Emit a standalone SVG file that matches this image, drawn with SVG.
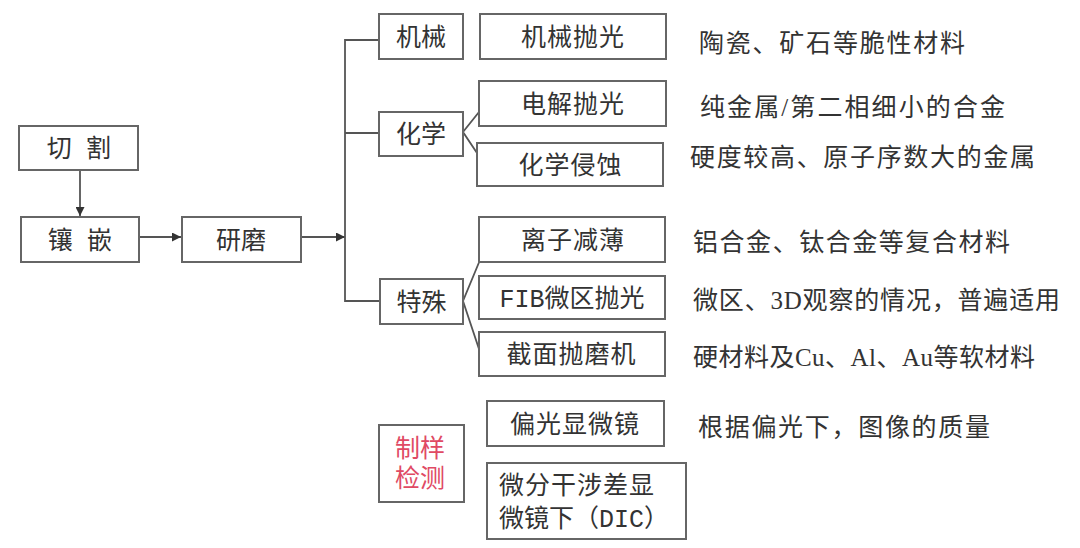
<svg xmlns="http://www.w3.org/2000/svg" width="1080" height="548" viewBox="0 0 1080 548">
<style>
.box{fill:#fff;stroke:#666;stroke-width:2}
.t{font-family:"Liberation Serif","Noto Sans CJK SC",serif;font-size:25px;fill:#333}
.m{font-family:"Liberation Mono","Noto Sans CJK SC",monospace;font-size:25px;fill:#333}
.c{text-anchor:middle}
.red{fill:#e04a64}
.ln{fill:none;stroke:#555;stroke-width:1.8}
</style>
<defs>
<marker id="ah" viewBox="0 0 10 10" refX="10" refY="5" markerWidth="9" markerHeight="9" markerUnits="userSpaceOnUse" orient="auto">
<path d="M0,0 L10,5 L0,10 Z" fill="#333"/>
</marker>
</defs>
<rect width="1080" height="548" fill="#fff"/>
<g id="connectors">
<line class="ln" x1="80" y1="171" x2="80" y2="216" marker-end="url(#ah)"/>
<line class="ln" x1="139" y1="237" x2="181" y2="237" marker-end="url(#ah)"/>
<line class="ln" x1="301" y1="237" x2="345" y2="237" marker-end="url(#ah)"/>
<polyline class="ln" points="379,40 345,40 345,301 380,301"/>
<line class="ln" x1="345" y1="133" x2="379" y2="133"/>
<polyline class="ln" points="479,112 463,132 477,153"/>
<polyline class="ln" points="480,260 463,301 480,352"/>
</g>
<g id="cut"><rect class="box" x="19" y="126" width="119" height="44"/><text class="t c" x="81" y="157" letter-spacing="4">切 割</text></g>
<g id="mount"><rect class="box" x="21" y="217" width="118" height="45"/><text class="t c" x="82" y="248.5" letter-spacing="4">镶 嵌</text></g>
<g id="grind"><rect class="box" x="182" y="217" width="119" height="45"/><text class="t c" x="241" y="248.5">研磨</text></g>
<g id="mech"><rect class="box" x="379" y="14" width="84" height="45"/><text class="t c" x="421" y="45.5">机械</text></g>
<g id="chem"><rect class="box" x="379" y="112" width="84" height="44"/><text class="t c" x="421" y="143">化学</text></g>
<g id="special"><rect class="box" x="380" y="279" width="83" height="45"/><text class="t c" x="421.5" y="310.5">特殊</text></g>
<g id="mech-polish"><rect class="box" x="480" y="14" width="186" height="45"/><text class="t c" x="573" y="45.5" letter-spacing="1">机械抛光</text></g>
<g id="electro-polish"><rect class="box" x="479" y="81" width="187" height="45"/><text class="t c" x="573" y="112.5" letter-spacing="1">电解抛光</text></g>
<g id="chem-etch"><rect class="box" x="477" y="143" width="186" height="43"/><text class="t c" x="570.5" y="173.5" letter-spacing="1">化学侵蚀</text></g>
<g id="ion-thin"><rect class="box" x="479" y="217" width="186" height="45"/><text class="t c" x="573" y="248.5" letter-spacing="1">离子减薄</text></g>
<g id="fib"><rect class="box" x="479" y="276" width="186" height="43"/><text class="m c" x="572" y="306.5">FIB微区抛光</text></g>
<g id="cross-section"><rect class="box" x="479" y="332" width="186" height="44"/><text class="t c" x="571.5" y="363" letter-spacing="1">截面抛磨机</text></g>
<g id="prep-inspect"><rect class="box" x="379" y="425" width="85" height="77"/><text class="t c red" x="420" y="457">制样</text><text class="t c red" x="420" y="487">检测</text></g>
<g id="polarized"><rect class="box" x="487" y="401" width="177" height="45"/><text class="t c" x="575" y="432.5" letter-spacing="1">偏光显微镜</text></g>
<g id="dic"><rect class="box" x="487" y="463" width="199" height="76"/><text class="m" x="499" y="494" letter-spacing="1">微分干涉差显</text><text class="m" x="499" y="527">微镜下（DIC）</text></g>
<g id="notes">
<text class="t" x="699" y="52" textLength="266" lengthAdjust="spacing">陶瓷、矿石等脆性材料</text>
<text class="t" x="700" y="116" textLength="305" lengthAdjust="spacing">纯金属/第二相细小的合金</text>
<text class="t" x="690" y="166" textLength="345" lengthAdjust="spacing">硬度较高、原子序数大的金属</text>
<text class="t" x="693" y="251" textLength="317" lengthAdjust="spacing">铝合金、钛合金等复合材料</text>
<text class="t" x="693" y="309" textLength="367" lengthAdjust="spacing">微区、3D观察的情况，普遍适用</text>
<text class="t" x="693" y="366" textLength="342" lengthAdjust="spacing">硬材料及Cu、Al、Au等软材料</text>
<text class="t" x="698" y="436" textLength="292" lengthAdjust="spacing">根据偏光下，图像的质量</text>
</g>
</svg>
